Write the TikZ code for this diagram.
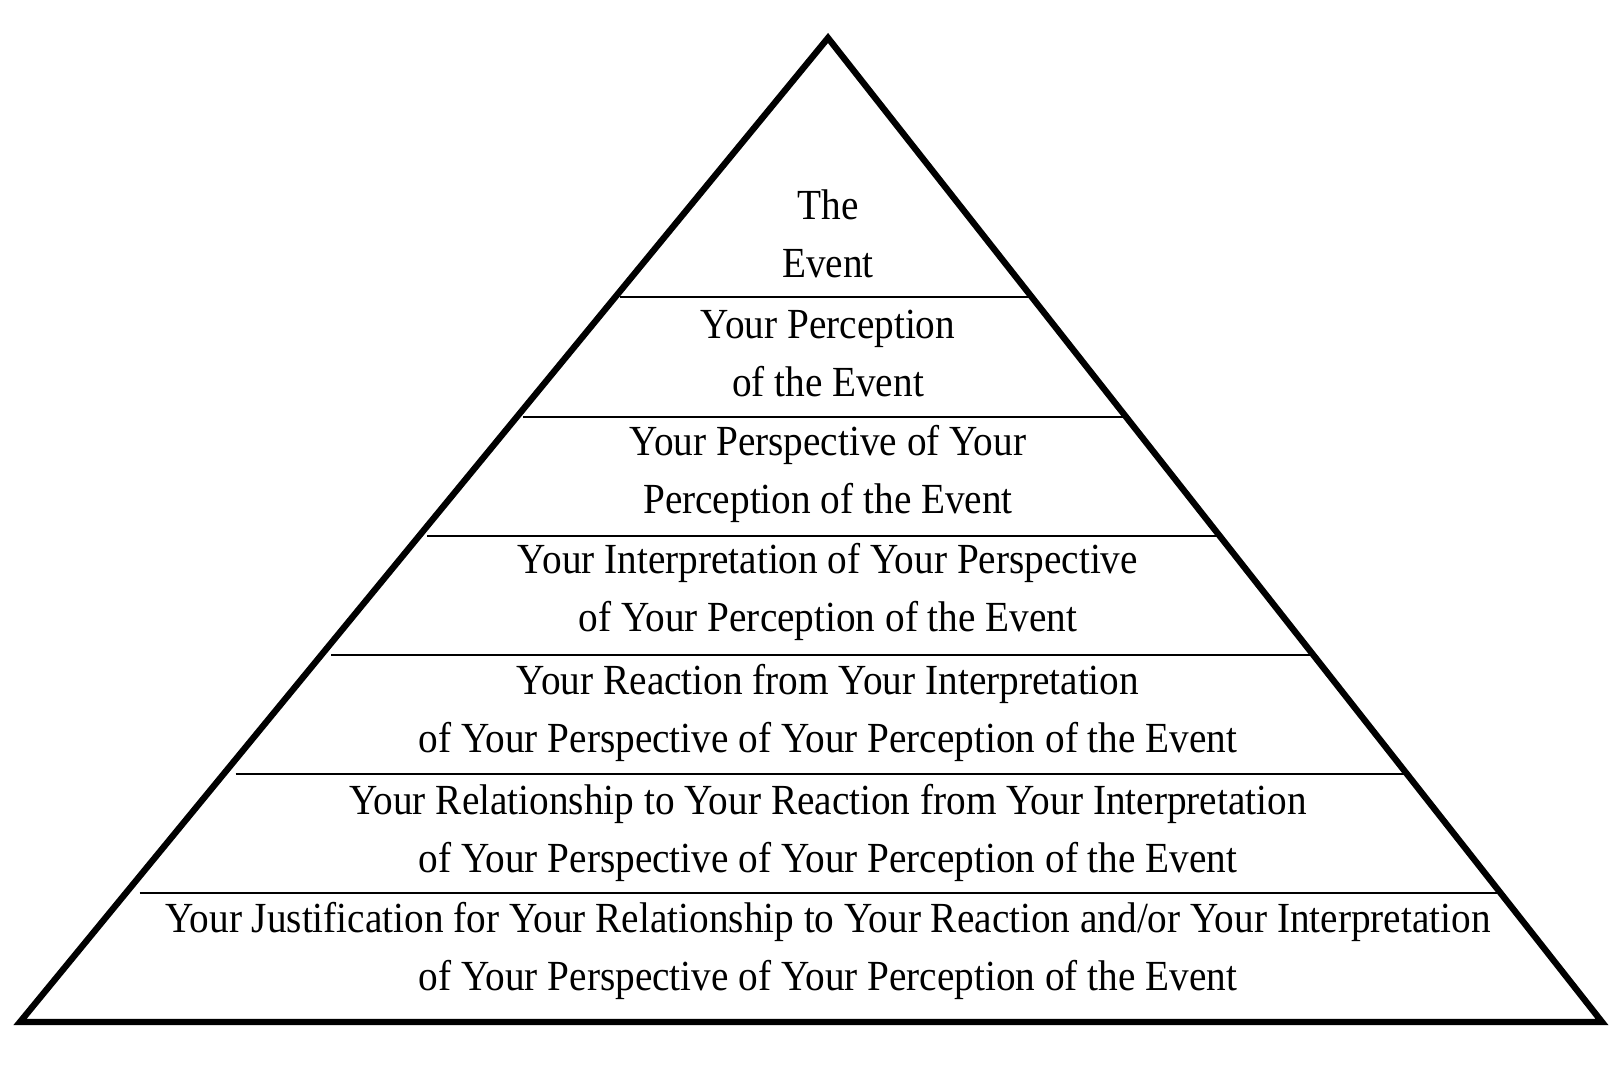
\documentclass[tikz,border=0pt]{standalone}
\usepackage{fontspec}
\setmainfont[FakeStretch=0.915]{Liberation Serif}
\tikzset{layer/.style={align=center,inner sep=0pt,font=\fontsize{12.2}{16.5}\selectfont}}

\begin{document}
\begin{tikzpicture}[x=0.01cm,y=-0.01cm]
  \begin{scope}[line join=miter]
    \draw[draw=none, use as bounding box] (0,0) rectangle (1624,1074);
    \draw[line width=1.8pt] (20,1022) -- (828,38) -- (1602,1022) -- cycle;
    \foreach \y in {297,417,536,655,774,893}
      \draw[line width=0.6pt] ({828-(\y-38)*0.805},\y) -- ({828+(\y-38)*0.785},\y);
  \end{scope}
  \node[layer] (event) at (828,234) {The\\Event};
  \node[layer] (perception) at (828,354) {Your Perception\\of the Event};
  \node[layer] (perspective) at (828,474) {Your Perspective of Your\\Perception of the Event};
  \node[layer] (interpretation) at (828,592) {Your Interpretation of Your Perspective\\of Your Perception of the Event};
  \node[layer] (reaction) at (828,713) {Your Reaction from Your Interpretation\\of Your Perspective of Your Perception of the Event};
  \node[layer] (relationship) at (828,833) {Your Relationship to Your Reaction from Your Interpretation\\of Your Perspective of Your Perception of the Event};
  \node[layer] (justification) at (828,951) {Your Justification for Your Relationship to Your Reaction and/or Your Interpretation\\of Your Perspective of Your Perception of the Event};
\end{tikzpicture}
\end{document}
